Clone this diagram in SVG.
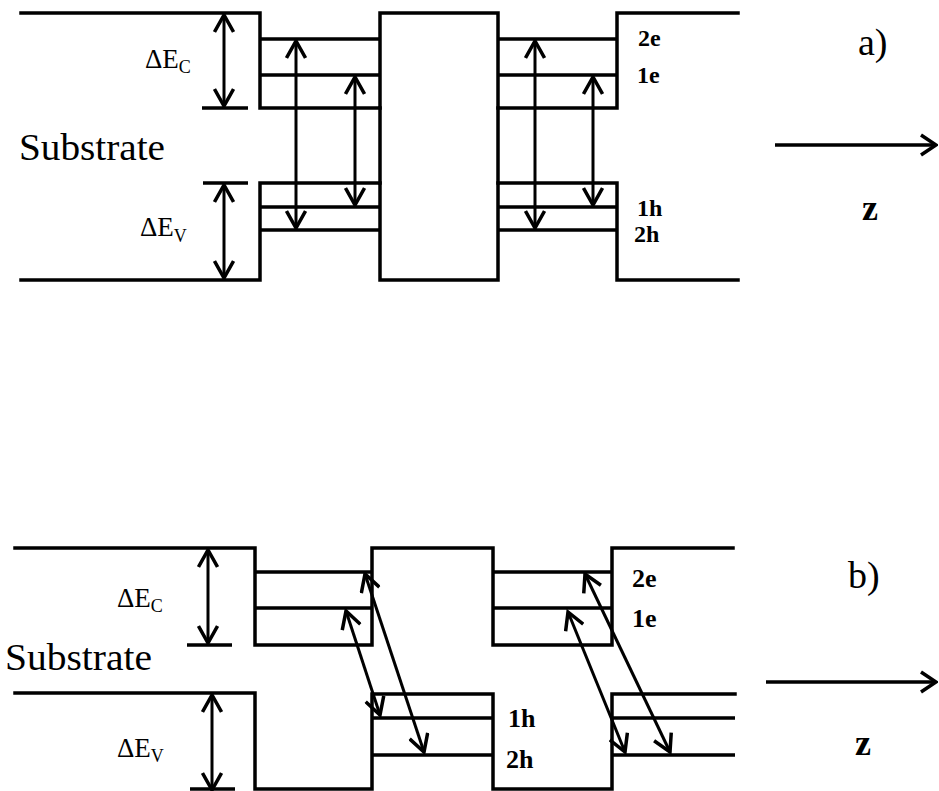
<svg xmlns="http://www.w3.org/2000/svg" width="939" height="791" viewBox="0 0 939 791">
<style>
.band{fill:none;stroke:#000;stroke-width:3.5;stroke-linejoin:miter;stroke-linecap:square}
.lvl{fill:none;stroke:#000;stroke-width:3.5}
.arr{fill:none;stroke:#000;stroke-width:3;marker-start:url(#h);marker-end:url(#h)}
.zarr{fill:none;stroke:#000;stroke-width:3.5;marker-end:url(#hz)}
text{font-family:"Liberation Serif","Times New Roman",serif;fill:#000}
.sub{font-size:37px}
.de{font-size:27px}
.lv{font-weight:bold}
.tag{font-size:38px}
.z{font-size:36px;font-weight:bold}
</style>
<defs>
<marker id="h" markerUnits="userSpaceOnUse" viewBox="0 0 22 22" refX="19" refY="11" markerWidth="22" markerHeight="22" orient="auto-start-reverse">
<path d="M2,1.5 L19,11 L2,20.5" fill="none" stroke="#000" stroke-width="3.5"/>
</marker>
<marker id="hz" markerUnits="userSpaceOnUse" viewBox="0 0 20 24" refX="18" refY="12" markerWidth="20" markerHeight="24" orient="auto">
<path d="M3,2 L18,12 L3,22" fill="none" stroke="#000" stroke-width="3.5"/>
</marker>
</defs>
<rect width="939" height="791" fill="#fff"/>

<g id="diagram-a">
<g id="a-bands">
<path class="band" d="M21,13 H260 V108 H380 V13 H498 V108 H617 V13 H738"/>
<path class="band" d="M21,280 H260 V183 H380 V280 H498 V183 H617 V280 H738"/>
<path class="band" d="M380,108 V183 M498,108 V183"/>
<path class="lvl" d="M202,108 H248 M203,183 H248"/>
</g>
<g id="a-well1">
<path class="lvl" d="M260,39 H380 M260,75 H380 M260,207 H380 M260,230 H380"/>
</g>
<g id="a-well2">
<path class="lvl" d="M498,39 H617 M498,75 H617 M498,207 H617 M498,230 H617"/>
</g>
<g id="a-labels">
<text class="sub" x="19" y="160" textLength="146" lengthAdjust="spacingAndGlyphs">Substrate</text>
<text class="de" x="145" y="68">ΔE<tspan font-size="18" dy="5">C</tspan></text>
<text class="de" x="140" y="236">ΔE<tspan font-size="18" dy="6">V</tspan></text>
<text class="lv" font-size="24" x="638" y="46">2e</text>
<text class="lv" font-size="24" x="637" y="83">1e</text>
<text class="lv" font-size="24" x="637" y="216">1h</text>
<text class="lv" font-size="24" x="634" y="242">2h</text>
<text class="tag" x="858" y="55">a)</text>
<text class="z" x="862" y="220">z</text>
</g>
</g>

<g id="diagram-b">
<g id="b-bands">
<path class="band" d="M15,548 H255 V645 H372 V548 H493 V645 H612 V548 H733"/>
<path class="band" d="M15,693 H255 V789 H372 V694 H493 V789 H612 V694 H735"/>
<path class="lvl" d="M187,645 H232 M190,789 H235"/>
</g>
<g id="b-well1">
<path class="lvl" d="M255,572 H372 M255,608 H372"/>
<path class="lvl" d="M372,718 H493 M372,755 H493"/>
</g>
<g id="b-well2">
<path class="lvl" d="M493,572 H612 M493,608 H612"/>
<path class="lvl" d="M612,718 H735 M612,755 H735"/>
</g>
<g id="b-labels">
<text class="sub" x="5" y="670" textLength="147" lengthAdjust="spacingAndGlyphs">Substrate</text>
<text class="de" x="117" y="607">ΔE<tspan font-size="18" dy="5">C</tspan></text>
<text class="de" x="117" y="757">ΔE<tspan font-size="18" dy="5">V</tspan></text>
<text class="lv" font-size="26" x="632" y="587">2e</text>
<text class="lv" font-size="26" x="632" y="627">1e</text>
<text class="lv" font-size="26" x="508" y="727">1h</text>
<text class="lv" font-size="26" x="506" y="768">2h</text>
<text class="tag" x="848" y="588">b)</text>
<text class="z" x="855" y="755">z</text>
</g>
</g>

<g id="connectors">
<line class="arr" x1="224" y1="15" x2="224" y2="106"/>
<line class="arr" x1="224" y1="185" x2="224" y2="278"/>
<line class="arr" x1="296" y1="41" x2="296" y2="228"/>
<line class="arr" x1="355" y1="77" x2="355" y2="205"/>
<line class="arr" x1="535" y1="41" x2="535" y2="228"/>
<line class="arr" x1="593" y1="77" x2="593" y2="205"/>
<line class="zarr" x1="775" y1="145" x2="936" y2="145"/>

<line class="arr" x1="208" y1="550" x2="208" y2="643"/>
<line class="arr" x1="212" y1="695" x2="212" y2="790"/>
<line class="arr" x1="365" y1="574" x2="424" y2="752"/>
<line class="arr" x1="346" y1="611" x2="380" y2="715"/>
<line class="arr" x1="585" y1="574" x2="670" y2="752"/>
<line class="arr" x1="568" y1="612" x2="625" y2="752"/>
<line class="zarr" x1="766" y1="682" x2="936" y2="682"/>
</g>
</svg>
